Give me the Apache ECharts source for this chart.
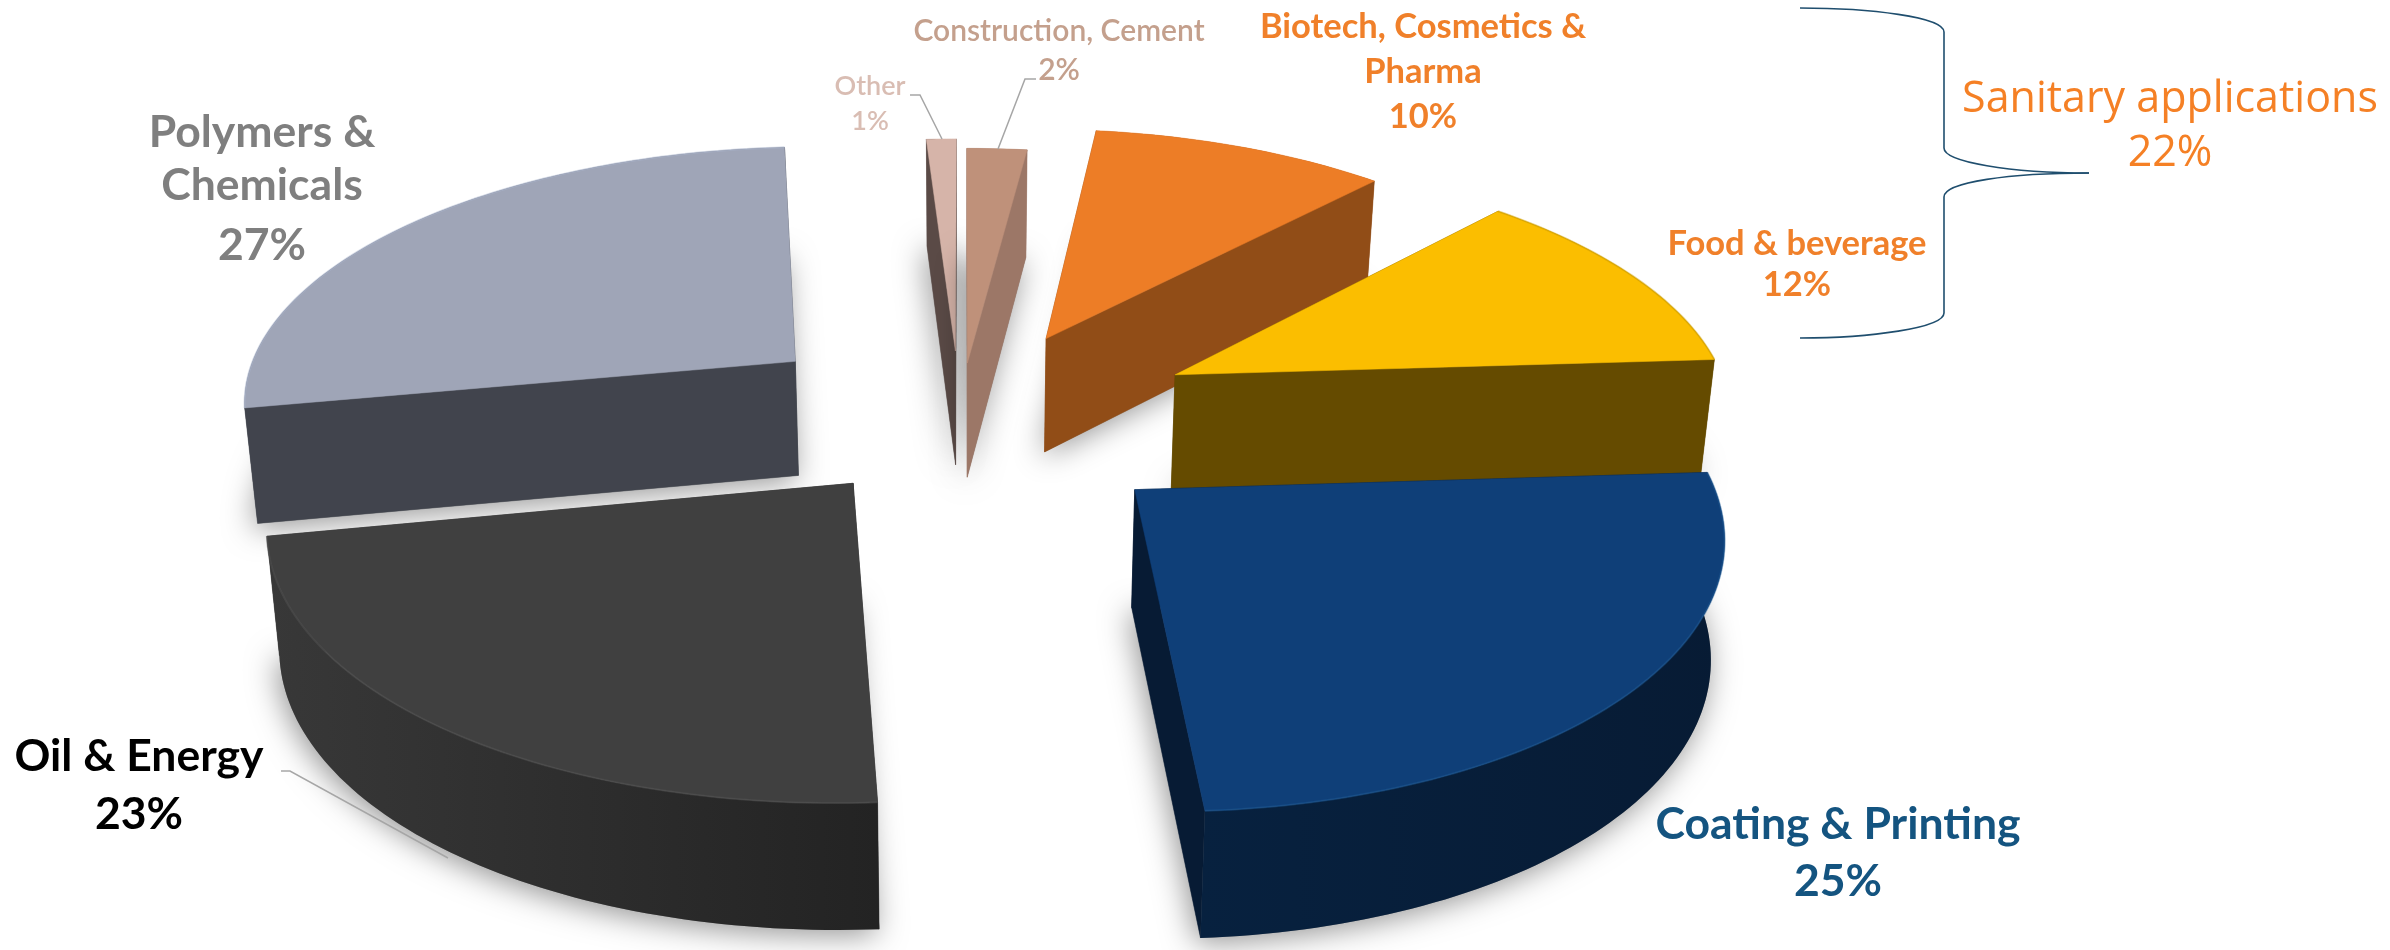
<!DOCTYPE html>
<html>
<head>
<meta charset="utf-8">
<style>html,body{margin:0;padding:0;background:#fff}#chart{width:2390px;height:950px}</style>
<script src="https://cdn.jsdelivr.net/npm/echarts@6/dist/echarts.min.js"></script>
</head>
<body>
<div id="chart"></div>
<script>
// Market share by application, clockwise from twelve o'clock.
const categories = ['Construction, Cement', 'Biotech, Cosmetics & Pharma', 'Food & beverage', 'Coating & Printing', 'Oil & Energy', 'Polymers & Chemicals', 'Other'];
const shares = [2, 10, 12, 25, 23, 27, 1];
// How far each slice is pulled out of the disc, in disc radii (east, north).
const explodeX = [0.008, 0.155, 0.388, 0.296, -0.19, -0.309, -0.014];
const explodeY = [0.243, 0.345, 0.195, -0.245, -0.222, 0.25, 0.293];
const sanitaryGroup = ['Biotech, Cosmetics & Pharma', 'Food & beverage'];

// Slice colours: top face, side wall (left, right), rim highlight.
const palette = [
  { top: '#BF917A', wall: ['#9C7767', '#9C7767'], rim: null },
  { top: '#ED7D26', wall: ['#914D17', '#914D17'], rim: null },
  { top: '#FBBE00', wall: ['#654B00', '#654B00'], rim: '#C79A00' },
  { top: '#0F3F78', wall: ['#07213F', '#071B34'], rim: '#1D5A96' },
  { top: '#404040', wall: ['#383838', '#232323'], rim: '#555555' },
  { top: '#9FA5B7', wall: ['#41444D', '#41444D'], rim: '#A9B3CB' },
  { top: '#D6B4A9', wall: ['#5A4A46', '#5A4A46'], rim: null }
];

// Perspective camera for the tilted disc; the lower face sits slightly narrower.
const camera = { cx: 963, cy: 424, rx: 561, ry: 259, depth: 0.135, thickness: 116, lowerScale: 0.982 };

function project(x, y, drop) {
  const s = 1 / (1 + camera.depth * y);
  const px = camera.rx * x * s;
  const py = camera.cy - camera.ry * y * s;
  return drop
    ? [camera.cx + px * camera.lowerScale, py + camera.thickness * Math.sqrt(s)]
    : [camera.cx + px, py];
}

const total = shares.reduce((a, b) => a + b, 0);
let running = 0;
const slices = shares.map((v, i) => {
  const a0 = running / total * Math.PI * 2;
  running += v;
  const a1 = running / total * Math.PI * 2;
  return { index: i, a0, a1, ox: explodeX[i], oy: explodeY[i] };
});
// Paint far slices first so nearer ones overlap them.
const drawOrder = slices.slice().sort((p, q) => q.oy - p.oy).map(s => s.index);

function arcPoints(sl, drop) {
  const pts = [];
  const n = Math.max(6, Math.round((sl.a1 - sl.a0) / 0.02));
  for (let j = 0; j <= n; j++) {
    const a = sl.a0 + (sl.a1 - sl.a0) * j / n;
    pts.push(project(sl.ox + Math.sin(a), sl.oy + Math.cos(a), drop));
  }
  return pts;
}

function polygon(points, style) {
  return { type: 'polygon', shape: { points }, style };
}

function renderSlice(params, api) {
  const i = api.value(0);
  const sl = slices[i];
  const col = palette[i];
  const topArc = arcPoints(sl, false);
  const lowArc = arcPoints(sl, true);
  const apexTop = project(sl.ox, sl.oy, false);
  const apexLow = project(sl.ox, sl.oy, true);
  const children = [];
  // Soft shadow cast by the underside of the slice.
  children.push(polygon([apexLow].concat(lowArc), {
    fill: '#888', shadowColor: 'rgba(0,0,0,0.42)', shadowBlur: 30, shadowOffsetX: -3, shadowOffsetY: 5
  }));
  const wallFill = new echarts.graphic.LinearGradient(0, 0, 1, 0, [
    { offset: 0, color: col.wall[0] }, { offset: 1, color: col.wall[1] }
  ]);
  const plain = { fill: col.wall[1], stroke: col.wall[1], lineWidth: 0.5 };
  // Radial walls, then the curved outer wall, then the top face.
  children.push(polygon([apexTop, topArc[0], lowArc[0], apexLow], plain));
  children.push(polygon([apexTop, topArc[topArc.length - 1], lowArc[lowArc.length - 1], apexLow], plain));
  children.push(polygon(topArc.concat(lowArc.slice().reverse()), { fill: wallFill }));
  children.push(polygon([apexTop].concat(topArc), { fill: col.top, stroke: col.top, lineWidth: 0.5 }));
  if (col.rim) {
    children.push({ type: 'polyline', shape: { points: topArc }, style: { fill: null, stroke: col.rim, lineWidth: 2, opacity: 0.45 } });
  }
  return { type: 'group', children };
}

// Text rows: centre x, centre y, text, font, colour.
const pct = name => shares[categories.indexOf(name)] + '%';
const sanitaryTotal = sanitaryGroup.reduce((a, n) => a + shares[categories.indexOf(n)], 0);
const LARGE = 'bold 44.5px Lato';
const MEDIUM = 'bold 34.5px Lato';
const SANITARY = '500 43px "Open Sans"';
const labelRows = [
  [262, 133, 'Polymers &', LARGE, '#7F7F7F'], [262, 186, 'Chemicals', LARGE, '#7F7F7F'], [262, 246, pct('Polymers & Chemicals'), LARGE, '#7F7F7F'],
  [139, 757, 'Oil & Energy', LARGE, '#000000'], [139, 815, pct('Oil & Energy'), LARGE, '#000000'],
  [1838, 825, 'Coating & Printing', LARGE, '#145480'], [1838, 882, pct('Coating & Printing'), LARGE, '#145480'],
  [1423, 27, 'Biotech, Cosmetics &', MEDIUM, '#F0802A'], [1423, 72, 'Pharma', MEDIUM, '#F0802A'], [1423, 117, pct('Biotech, Cosmetics & Pharma'), MEDIUM, '#F0802A'],
  [1797, 244, 'Food & beverage', MEDIUM, '#F0802A'], [1797, 285, pct('Food & beverage'), MEDIUM, '#F0802A'],
  [1059, 31, 'Construction, Cement', '600 30px Lato', '#C4A08D'], [1059, 70, pct('Construction, Cement'), '600 30px Lato', '#C4A08D'],
  [870, 86, 'Other', '600 27px Lato', '#D9BDB3'], [870, 121, pct('Other'), '600 27px Lato', '#D9BDB3'],
  [2170, 100, 'Sanitary applications', SANITARY, '#F58025'], [2170, 154, sanitaryTotal + '%', SANITARY, '#F58025']
];

const leaderLines = [
  [[910, 95], [920, 95], [942, 139]],
  [[1036, 79], [1025, 79], [998, 149]],
  [[281, 771], [290, 771], [448, 858]]
];

// Curly brace around the two sanitary segments.
const braceCurves = [
  [1800, 8, 1870, 8, 1944, 17, 1944, 32],
  [1944, 148, 1944, 162, 2010, 173, 2089, 173],
  [2089, 173, 2010, 173, 1944, 182, 1944, 197],
  [1944, 313, 1944, 328, 1870, 338, 1800, 338]
];
const braceStraights = [[[1944, 32], [1944, 148]], [[1944, 197], [1944, 313]]];
const braceStyle = { fill: null, stroke: '#1F4E6E', lineWidth: 1.6 };

const graphics = labelRows.map(r => ({
  type: 'text', z: 20,
  style: { x: r[0], y: r[1], text: r[2], font: r[3], fill: r[4], align: 'center', verticalAlign: 'middle' }
})).concat(leaderLines.map(points => ({
  type: 'polyline', z: 15, shape: { points }, style: { fill: null, stroke: '#A6A6A6', lineWidth: 1.5 }
}))).concat(braceCurves.map(c => ({
  type: 'bezierCurve', z: 15, style: braceStyle,
  shape: { x1: c[0], y1: c[1], cpx1: c[2], cpy1: c[3], cpx2: c[4], cpy2: c[5], x2: c[6], y2: c[7] }
}))).concat(braceStraights.map(points => ({
  type: 'polyline', z: 15, shape: { points }, style: braceStyle
})));

const chart = echarts.init(document.getElementById('chart'));
chart.setOption({
  animation: false,
  backgroundColor: '#ffffff',
  graphic: graphics,
  series: [{
    type: 'custom',
    coordinateSystem: 'none',
    silent: true,
    renderItem: renderSlice,
    data: drawOrder.map(i => ({ name: categories[i], value: [i, shares[i]] }))
  }]
});
</script>
</body>
</html>
